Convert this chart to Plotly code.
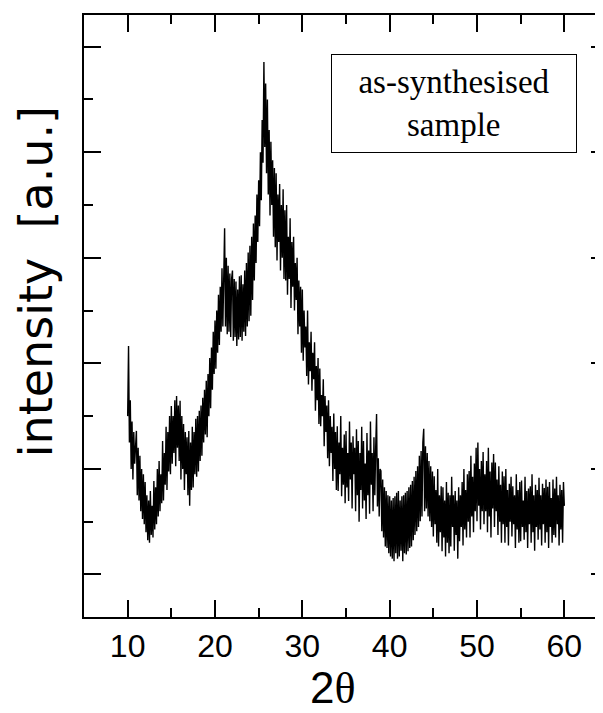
import plotly.graph_objects as go

# ---- data ----
two_theta_start = 10.0
two_theta_step = 0.1
intensity = [
    300, 433, 250, 330, 200, 290, 180, 270, 210, 260,   # 10
    272, 150, 240, 140, 225, 120, 200, 105, 190, 95,    # 11
    175, 80, 150, 65, 140, 60, 158, 75, 130, 70,        # 12
    177, 85, 165, 95, 200, 110, 215, 120, 190, 135,     # 13
    253, 140, 230, 170, 280, 160, 270, 195, 300, 190,   # 14
    319, 210, 300, 230, 330, 205, 338, 240, 320, 215,   # 15
    329, 180, 300, 200, 285, 160, 270, 190, 260, 150,   # 16
    272, 130, 250, 160, 280, 165, 270, 190, 295, 185,   # 17
    300, 195, 310, 215, 320, 225, 335, 250, 350, 265,   # 18
    367, 260, 380, 300, 410, 315, 430, 350, 460, 380,   # 19
    481, 390, 500, 420, 530, 435, 545, 460, 580, 470,   # 20
    620, 656, 470, 600, 455, 585, 460, 570, 450, 560,   # 21
    576, 443, 560, 450, 555, 433, 540, 445, 565, 450,   # 22
    567, 443, 550, 460, 576, 452, 590, 470, 610, 480,   # 23
    623, 490, 640, 520, 665, 557, 680, 590, 720, 630,   # 24
    747, 660, 800, 709, 861, 780, 971, 810, 930, 760,   # 25
    900, 720, 842, 680, 820, 700, 785, 640, 770, 620,   # 26
    760, 595, 720, 630, 740, 576, 700, 600, 730, 560,   # 27
    690, 557, 700, 530, 640, 560, 675, 505, 630, 545,   # 28
    640, 500, 590, 520, 600, 455, 557, 470, 545, 420,   # 29
    540, 405, 500, 430, 470, 376, 500, 360, 440, 385,   # 30
    460, 348, 420, 370, 440, 310, 395, 330, 410, 285,   # 31
    390, 281, 340, 300, 370, 243, 338, 270, 320, 220,   # 32
    330, 205, 300, 230, 280, 177, 305, 200, 270, 160,   # 33
    281, 158, 250, 190, 300, 148, 240, 170, 265, 135,   # 34
    272, 165, 230, 139, 290, 180, 250, 125, 262, 190,   # 35
    240, 120, 275, 150, 253, 100, 230, 160, 280, 125,   # 36
    253, 140, 210, 105, 268, 150, 235, 115, 290, 170,   # 37
    230, 120, 260, 150, 240, 304, 129, 220, 110, 200,   # 38
    196, 82, 180, 70, 165, 53, 158, 50, 150, 40,        # 39
    148, 34, 140, 30, 145, 25, 148, 40, 155, 30,        # 40
    158, 34, 140, 45, 148, 25, 150, 40, 155, 38,        # 41
    158, 44, 165, 50, 170, 53, 177, 65, 185, 75,        # 42
    196, 82, 205, 90, 225, 101, 234, 110, 250, 276,     # 43
    120, 243, 125, 230, 110, 215, 101, 205, 90, 195,    # 44
    72, 186, 95, 160, 60, 200, 53, 150, 80, 167,        # 45
    44, 165, 70, 140, 34, 175, 60, 155, 40, 150,        # 46
    53, 185, 90, 150, 45, 158, 75, 140, 30, 165,        # 47
    63, 150, 90, 175, 55, 200, 85, 160, 70, 190,        # 48
    100, 196, 70, 225, 110, 185, 80, 210, 120, 240,     # 49
    101, 250, 130, 200, 85, 215, 120, 232, 95, 190,     # 50
    120, 215, 80, 240, 110, 195, 70, 212, 125, 228,     # 51
    90, 212, 120, 180, 75, 205, 100, 170, 60, 195,      # 52
    95, 186, 60, 200, 90, 160, 55, 172, 100, 185,       # 53
    72, 167, 95, 150, 50, 190, 85, 160, 60, 175,        # 54
    63, 178, 90, 140, 66, 185, 80, 158, 50, 163,        # 55
    95, 167, 60, 190, 80, 150, 45, 170, 90, 160,        # 56
    66, 183, 85, 150, 55, 172, 95, 164, 60, 180,        # 57
    80, 166, 50, 175, 90, 145, 60, 180, 75, 163,        # 58
    70, 185, 95, 150, 55, 170, 85, 160, 60, 175,        # 59
    130,                                                 # 60
]
two_theta = [round(two_theta_start + i * two_theta_step, 2) for i in range(len(intensity))]

x_major_ticks = [10, 20, 30, 40, 50, 60]
x_major_labels = ["10", "20", "30", "40", "50", "60"]
x_minor_ticks = [15, 25, 35, 45, 55]
y_major_ticks = [0, 200, 400, 600, 800, 1000]
y_minor_ticks = [100, 300, 500, 700, 900]
x_range = [5, 65]
y_range = [-80.6, 1060]

label_text = "as-synthesised<br>sample"
y_title = "intensity\u00a0 [a.u.]"
x_title = '2<span style="font-family:\'Liberation Serif\', \'Times New Roman\', serif">θ</span>'

SANS = "Liberation Sans, Arial, sans-serif"
WIDE_SANS = "DejaVu Sans, Verdana, sans-serif"
SERIF = "Liberation Serif, Times New Roman, serif"

fig = go.Figure()
fig.add_trace(go.Scatter(
    x=two_theta, y=intensity, mode="lines",
    line=dict(color="black", width=1.4), showlegend=False, hoverinfo="skip",
))

# the page body adds an 8 px offset; the plot's right frame lies just past the window edge
W, H = 602, 705
L, R, T, B = 76, 0, 7, 96
fig.update_layout(
    width=W, height=H,
    margin=dict(l=L, r=R, t=T, b=B, pad=0),
    paper_bgcolor="white", plot_bgcolor="white",
    showlegend=False,
    xaxis=dict(
        range=x_range, tickmode="array", tickvals=x_major_ticks, ticktext=x_major_labels,
        ticks="inside", ticklen=17, tickwidth=2, tickcolor="black",
        showline=True, linewidth=2, linecolor="black", mirror="ticks",
        showgrid=False, zeroline=False,
        tickfont=dict(family=SANS, size=32, color="black"),
        ticklabelstandoff=0,
        minor=dict(tickmode="array", tickvals=x_minor_ticks, ticks="inside",
                   ticklen=9, tickwidth=2, tickcolor="black", showgrid=False),
    ),
    yaxis=dict(
        range=y_range, tickmode="array", tickvals=y_major_ticks,
        ticks="inside", ticklen=17, tickwidth=2, tickcolor="black",
        showline=True, linewidth=2, linecolor="black", mirror="ticks",
        showgrid=False, zeroline=False, showticklabels=False,
        minor=dict(tickmode="array", tickvals=y_minor_ticks, ticks="inside",
                   ticklen=9, tickwidth=2, tickcolor="black", showgrid=False),
    ),
)

pw = W - L - R
ph = H - T - B

def px_to_paper(px, py):
    return (px - L) / pw, (H - B - py) / ph

bx, by = px_to_paper(447, 95.5)
fig.add_annotation(
    x=bx, y=by, xref="paper", yref="paper", showarrow=False,
    xanchor="center", yanchor="middle",
    text=label_text, align="center",
    font=dict(family=SERIF, size=33, color="black"),
    bordercolor="black", borderwidth=1, borderpad=0,
    width=244, height=97, bgcolor="white",
)

tx, ty = px_to_paper(28, 274)
fig.add_annotation(
    x=tx, y=ty, xref="paper", yref="paper", showarrow=False,
    xanchor="center", yanchor="middle",
    text=y_title, textangle=-90,
    font=dict(family=WIDE_SANS, size=46, color="black"),
)

xx, xy = px_to_paper(326, 680)
fig.add_annotation(
    x=xx, y=xy, xref="paper", yref="paper", showarrow=False,
    xanchor="center", yanchor="middle",
    text=x_title,
    font=dict(family=SANS, size=44, color="black"),
)

fig.write_html("out.html")
